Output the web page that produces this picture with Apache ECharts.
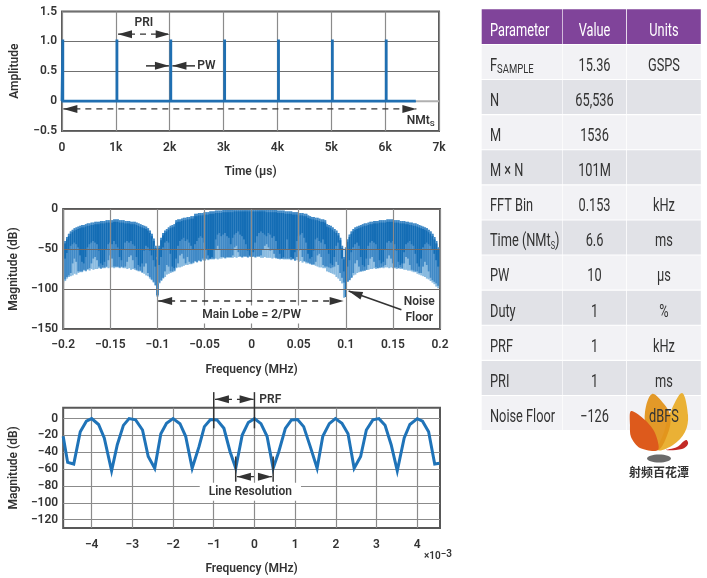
<!DOCTYPE html>
<html><head><meta charset="utf-8">
<style>html,body{margin:0;padding:0;background:#fff}#c{width:707px;height:578px}</style>
<script src="https://cdn.jsdelivr.net/npm/echarts@6/dist/echarts.min.js"></script>
</head><body><div id="c"></div>
<script>
// ---------- data ----------
const pulseTimes = [15, 1020, 2020, 3020, 4020, 5020, 6020];
const pulseHeight = 1.03;
const recordEnd = 6570;
const traceTail = [[6570,0],[7000,0]];

const specStart = -0.2, specStep = 0.002;
const specTop = [
-47,-40,-35,-31,-28,-26,-24,-23,-22,-21, -20,-20,-19,-18,-18,-17,-17,-16,-16,-16,
-15,-15,-15,-14,-14,-14,-14,-13,-13,-13, -14,-14,-14,-15,-15,-15,-16,-16,-16,-17,
-18,-19,-20,-21,-22,-24,-27,-31,-37,-46, -60,
-46,-36,-30,-27,-25,-23,-21,-20,-19,
-14,-13,-13,-12,-11,-11,-10,-10,-9,-9, -6,-6,-5,-5,-5,-4,-4,-4,-3,-3,
-3,-2,-2,-2,-2,-1,-1,-1,-1,-1, -1,0,0,0,0,0,0,0,0,0, 0,
0,0,0,0,0,0,0,-1,-1, -1,-1,-1,-1,-2,-2,-2,-2,-3,-3,
-3,-3,-4,-4,-4,-5,-5,-5,-6,-6, -8,-9,-10,-10,-11,-11,-12,-13,-13,-14,
-19,-20,-21,-23,-25,-27,-30,-36,-46, -60,
-48,-38,-32,-28,-25,-23,-22,-21,-20,
-19,-18,-18,-17,-16,-16,-15,-15,-15,-14, -14,-14,-14,-13,-13,-13,-13,-14,-14,-14,
-15,-15,-15,-16,-16,-17,-17,-18,-18,-19, -20,-21,-22,-23,-24,-26,-28,-31,-35,-40,-48];
const specDark = [
-70,-62,-55,-50,-46,-44,-42,-44,-48,-58, -66,-68,-60,-48,-44,-42,-40,-42,-44,-52,
-68,-70,-66,-50,-44,-42,-44,-40,-44,-48, -60,-64,-50,-42,-40,-42,-40,-44,-46,-60,
-70,-72,-68,-52,-46,-48,-52,-58,-64,-72, -108,
-70,-60,-48,-42,-40,-42,-56,-72,-74,
-62,-46,-40,-38,-36,-40,-38,-42,-46,-50, -44,-40,-36,-34,-36,-42,-50,-58,-62,-60,
-50,-38,-32,-30,-34,-32,-30,-34,-36,-44, -36,-32,-30,-28,-32,-34,-38,-44,-52,-58, -60,
-54,-42,-34,-30,-28,-30,-32,-34,-30, -32,-36,-34,-40,-50,-56,-62,-60,-50,-38,
-50,-60,-62,-54,-40,-34,-32,-30,-36,-42, -56,-62,-60,-52,-38,-36,-40,-42,-38,-44,
-50,-56,-68,-70,-60,-46,-42,-50,-62,-78, -110,
-72,-64,-54,-48,-44,-42,-46,-60,-70,
-72,-62,-46,-42,-40,-42,-44,-50,-64,-68, -66,-50,-42,-40,-42,-40,-44,-52,-66,-70,
-68,-54,-44,-42,-40,-44,-46,-56,-68,-72, -62,-48,-44,-42,-44,-46,-50,-56,-64,-72,-82];
const specMid = [
-90,-88,-85,-83,-80,-68,-62,-66,-78,-78, -78,-76,-77,-75,-74,-68,-62,-60,-64,-72,
-74,-73,-73,-72,-64,-58,-62,-72,-72,-72, -73,-72,-73,-72,-66,-60,-58,-64,-74,-76,
-77,-77,-79,-72,-68,-80,-85,-88,-91,-95, -108,
-92,-89,-86,-78,-70,-72,-78,-78,-77,
-73,-68,-58,-56,-62,-68,-60,-66,-68,-67, -65,-66,-64,-65,-62,-64,-62,-63,-62,-62,
-62,-50,-46,-50,-60,-60,-61,-60,-60,-60, -58,-48,-46,-54,-59,-60,-59,-59,-60,-59, -59,
-59,-60,-59,-59,-58,-50,-46,-44,-48, -52,-50,-56,-61,-62,-62,-61,-62,-62,-62,
-62,-63,-62,-64,-60,-52,-50,-60,-65,-66, -67,-68,-69,-69,-66,-58,-56,-60,-70,-72,
-72,-73,-74,-73,-72,-66,-70,-80,-86,-92, -110,
-91,-89,-86,-80,-68,-64,-72,-78,-77,
-77,-76,-70,-62,-60,-66,-73,-74,-73,-73, -72,-70,-62,-58,-62,-68,-73,-73,-74,-73,
-74,-68,-60,-62,-70,-76,-77,-78,-78,-80, -80,-72,-66,-70,-78,-86,-89,-91,-93,-96,-98];
const specLow = [
-92,-90,-87,-85,-84,-83,-81,-82,-80,-79, -79,-77,-78,-76,-77,-75,-76,-75,-75,-74,
-75,-74,-74,-73,-74,-73,-73,-74,-73,-73, -74,-73,-74,-74,-75,-74,-76,-75,-76,-77,
-78,-78,-80,-81,-83,-84,-87,-89,-92,-96, -110,
-93,-90,-87,-85,-82,-81,-80,-79,-78,
-74,-73,-73,-72,-71,-70,-70,-69,-69,-68, -66,-67,-65,-66,-64,-65,-63,-64,-63,-63,
-63,-62,-63,-62,-62,-61,-62,-61,-61,-61, -61,-60,-61,-60,-60,-61,-60,-60,-61,-60, -60,
-60,-61,-60,-60,-61,-61,-60,-61,-61, -61,-62,-61,-62,-62,-63,-62,-63,-63,-63,
-63,-64,-63,-65,-64,-66,-65,-67,-66,-68, -68,-69,-70,-70,-71,-72,-73,-73,-74,-74,
-78,-79,-80,-81,-82,-85,-87,-90,-93, -111,
-92,-90,-87,-85,-83,-82,-80,-79,-78,
-78,-77,-76,-76,-75,-75,-74,-75,-74,-74, -73,-74,-73,-73,-74,-73,-74,-74,-75,-74,
-75,-75,-76,-76,-77,-77,-78,-79,-79,-81, -82,-83,-84,-85,-87,-88,-90,-92,-94,-97,-99];

const lineFreq = [-4.70,-4.59,-4.44,-4.28,-4.13,-4.0,-3.83,-3.69,-3.51,-3.37,-3.22,-3.08,-2.92,-2.75,-2.61,-2.45,-2.30,-2.16,-2.0,-1.83,-1.69,-1.53,-1.36,-1.23,-1.08,-0.92,-0.75,-0.60,-0.46,-0.30,-0.15,0,0.16,0.31,0.46,0.60,0.76,0.91,1.06,1.21,1.37,1.54,1.68,1.84,1.99,2.15,2.30,2.45,2.61,2.75,2.91,3.06,3.21,3.36,3.51,3.68,3.82,4.0,4.13,4.28,4.43,4.55];
const lineMag = [-21,-52,-54,-15.5,-3,0,-7,-23,-62,-31,-8,0,-1.5,-13.5,-45,-59,-18,-5.5,0,-6,-21,-59,-33,-9.5,-1,-1.5,-11.5,-39,-59,-19.5,-4.5,0,-6,-21,-59,-39,-11.5,-1.5,-1,-9.5,-33,-59,-21,-6,0,-5.5,-18,-59,-45,-13.5,-1.5,0,-8,-31,-62,-23,-7,0,-3,-15.5,-54,-53];

const xTicks3 = [-4,-3,-2,-1,0,1,2,3,4];
const yTicks3 = [0,-20,-40,-60,-80,-100,-120];

// annotation arrows: x1,y1,x2,y2, arrowheads (0 none, 1 end, 2 both), dashed (0/1)
const arrows1 = [[1040,1.12,2000,1.12,2,1],[1560,0.59,1985,0.59,1,0],[2470,0.59,2050,0.59,1,0],[25,-0.13,6580,-0.13,2,1]];
const notes1 = [[1520,1.31,'PRI'],[2680,0.59,'PW'],[6660,-0.335,'{n|NMt}{s|S}']];
const arrows2 = [[-0.0992,-115,0.0977,-115,2,1],[0.159,-126,0.103,-102.5,1,0]];
const notes2 = [[0,-132,'Main Lobe = 2/PW',1],[0.178,-116,'Noise',0],[0.178,-136,'Floor',0]];
const arrows3 = [[-1,31.5,-1,-11.5,0,0],[0,31.5,0,-11.5,0,0],[-0.97,23,-0.02,23,2,1],[-0.46,-45,-0.46,-75,0,0],[0.46,-45,0.46,-75,0,0],[-0.43,-69,0.43,-69,2,1]];
const notes3 = [[0.39,22,'PRF',0],[-0.1,-87,'Line Resolution',1]];

const tableHead = ['Parameter','Value','Units'];
const tableRows = [
 ['{m|F}{b|SAMPLE}','15.36','GSPS'],['N','65,536',''],['M','1536',''],['M × N','101M',''],
 ['FFT Bin','0.153','kHz'],['Time (NMt{b2|S})','6.6','ms'],['PW','10','μs'],['Duty','1','%'],
 ['PRF','1','kHz'],['PRI','1','ms'],['Noise Floor','−126','dBFS']];

// ---------- helpers ----------
const INK = '#333333';
const labelFont = {fontFamily:'Roboto',fontWeight:600,fontSize:12,color:INK};
const minus = s => String(s).replace('-', '−');

function axisBase(extra){
  return Object.assign({
    axisLine:{show:false}, axisTick:{show:false},
    axisLabel:Object.assign({},labelFont),
    nameTextStyle:Object.assign({},labelFont),
    nameLocation:'middle',
    splitLine:{show:true,lineStyle:{color:'#8b8b8b',width:1.2}}
  },extra);
}
function arrowSeries(idx,data){
  return {type:'custom',coordinateSystem:'cartesian2d',xAxisIndex:idx,yAxisIndex:idx,z:10,silent:true,
    data:data,encode:{x:[0,2],y:[1,3]},
    renderItem:function(p,api){
      const a=api.coord([api.value(0),api.value(1)]),b=api.coord([api.value(2),api.value(3)]);
      const heads=api.value(4),dash=api.value(5);
      const d=Math.hypot(b[0]-a[0],b[1]-a[1]),ux=(b[0]-a[0])/d,uy=(b[1]-a[1])/d;
      const L=14,H=4,kids=[];
      const tri=(t,sx,sy)=>({type:'polygon',shape:{points:[t,[t[0]-sx*L-uy*H,t[1]-sy*L+ux*H],[t[0]-sx*L+uy*H,t[1]-sy*L-ux*H]]},style:{fill:'#333'}});
      kids.push({type:'line',shape:{x1:a[0],y1:a[1],x2:b[0],y2:b[1]},
        style:{stroke:'#333',lineWidth:dash?1.3:1.5,lineDash:dash?[6,5]:null}});
      if(heads>=1)kids.push(tri(b,ux,uy));
      if(heads>=2)kids.push(tri(a,-ux,-uy));
      return {type:'group',children:kids};
    }};
}
function noteSeries(idx,notes){
  return {type:'custom',coordinateSystem:'cartesian2d',xAxisIndex:idx,yAxisIndex:idx,z:9,silent:true,
    data:notes.map(n=>[n[0],n[1]]),encode:{x:0,y:1},
    renderItem:function(p,api){
      const c=api.coord([api.value(0),api.value(1)]),n=notes[p.dataIndex];
      return {type:'text',style:{x:c[0],y:c[1],text:n[2],align:'center',verticalAlign:'middle',
        font:'600 12px Roboto',fill:INK,
        backgroundColor:n[3]?'#fff':null,padding:n[3]?[3,9,3,9]:0,
        rich:{n:{font:'600 12px Roboto',fill:INK},s:{font:'600 8px Roboto',fill:INK,verticalAlign:'bottom',padding:[5,0,0,0]}}}};
    }};
}

// ---------- series data built from the arrays ----------
const pulseData=[[0,0]];
pulseTimes.forEach(t=>{pulseData.push([t,0],[t,pulseHeight],[t,0]);});
pulseData.push([recordEnd,0]);
const n=Math.min(specTop.length,specDark.length,specMid.length,specLow.length);
const specData=[];
for(let i=0;i<n;i++)specData.push([specStart+i*specStep,specTop[i],specDark[i],specMid[i],specLow[i]]);
const lineData=lineFreq.map((f,i)=>[f,lineMag[i]]);

function renderComb(p,api){
  const f=api.value(0),half=specStep/2;
  const rect=(y0,y1,fill)=>{
    const a=api.coord([f-half,y0]),b=api.coord([f+half,y1]);
    return {type:'rect',shape:{x:a[0],y:a[1],width:b[0]-a[0]+0.2,height:b[1]-a[1]},style:{fill:fill}};
  };
  const top=api.value(1),dark=api.value(2),mid=api.value(3),low=api.value(4);
  return {type:'group',children:[
    rect(top,low,'#8abbe0'),
    rect(top,mid,'#4089c6'),
    rect(top-3>dark?top-3:dark,dark,'#146db5')
  ]};
}

// ---------- table + logo ----------
const colX=[[481.7,80.5],[562.8,63.4],[627,73.8]];
const tableEls=[];
const tFont='Roboto';
const tScale=0.73;
const rowsY=[[9.3,34.7]];
for(let r=0;r<tableRows.length;r++)rowsY.push([45+r*35.1,34]);
rowsY.forEach((ry,r)=>{
  colX.forEach(cx=>{
    tableEls.push({type:'rect',z:1,shape:{x:cx[0],y:ry[0],width:cx[1],height:ry[1]},
      style:{fill:r===0?'#80449a':(r%2?'#f2f2f5':'#e1e2e7')}});
  });
});
const tRich={m:{font:'17.5px '+tFont,fill:'#333'},b:{font:'13px '+tFont,fill:'#333',verticalAlign:'bottom',padding:[6,0,0,0]},b2:{font:'10px '+tFont,fill:'#333',verticalAlign:'bottom',padding:[7,0,0,0]}};
function cell(text,col,r,z){
  const ry=rowsY[r],left=col===0;
  return {type:'text',z:z||3,x:left?490:colX[col][0]+colX[col][1]/2,y:ry[0]+ry[1]/2+4.5,scaleX:tScale,
    style:{x:0,y:0,text:text,align:left?'left':'center',verticalAlign:'middle',font:'17.5px '+tFont,fill:r===0?'#fff':'#333',rich:tRich}};
}
tableHead.forEach((t,c)=>tableEls.push(cell(t,c,0)));
tableRows.forEach((row,i)=>row.forEach((t,c)=>{if(t)tableEls.push(cell(t,c,i+1,(t==='dBFS')?6:3));}));
const logoEls=[
 {type:'polygon',z:4,shape:{smooth:0.35,points:[[658,450],[664,432],[670,413],[682,393],[688,415],[685,432],[673,445]]},style:{fill:'#e9ad2a',opacity:.95}},
 {type:'polygon',z:4,shape:{smooth:0.35,points:[[658,450],[647,432],[645,412],[652,394],[664,404],[670,415],[669,430]]},style:{fill:'#e2941c',opacity:.95}},
 {type:'polygon',z:5,shape:{smooth:0.3,points:[[658,450],[640,448],[631,437],[630,425],[631,411],[645,420],[655,433]]},style:{fill:'#dd5a1c'}},
 {type:'polygon',z:5,shape:{smooth:0.4,points:[[666,450],[677,447],[686,440],[688,444],[682,449]]},style:{fill:'#c32a26'}},
 {type:'ellipse',z:5,shape:{cx:659,cy:458.5,rx:12,ry:4},style:{fill:'#6b6b6b'}},
 {type:'text',z:5,style:{x:659,y:472.5,text:'射频百花潭',align:'center',verticalAlign:'middle',font:'700 12px "Noto Sans CJK SC"',fill:'#333'}}
];

// ---------- chart ----------
const chart=echarts.init(document.getElementById('c'));
const frame={show:true,borderColor:'#585858',borderWidth:2,backgroundColor:'#fff'};
chart.setOption({
  animation:false,
  backgroundColor:'#fff',
  graphic:{elements:tableEls.concat(logoEls).concat([
    {type:'text',z:7,style:{x:452,y:556,text:'×10{e|−3}',align:'right',verticalAlign:'middle',font:'600 10px Roboto',fill:INK,rich:{e:{font:'600 10px Roboto',fill:INK,verticalAlign:'bottom',padding:[0,0,3,0]}}}}
  ])},
  grid:[
    Object.assign({left:62,top:11.5,width:377,height:119.5},frame),
    Object.assign({left:62,top:209,width:378,height:120},frame),
    Object.assign({left:62,top:407.7,width:378,height:120.3},frame)
  ],
  xAxis:[
    axisBase({type:'value',gridIndex:0,min:0,max:7000,interval:1000,name:'Time (µs)',nameGap:35,
      axisLabel:Object.assign({},labelFont,{margin:11,formatter:v=>v===0?'0':(v/1000)+'k'})}),
    axisBase({type:'value',gridIndex:1,min:-0.2,max:0.2,interval:0.05,name:'Frequency (MHz)',nameGap:35,z:3,
      axisLabel:Object.assign({},labelFont,{margin:10,formatter:v=>minus(parseFloat(v.toFixed(2)))})}),
    axisBase({type:'value',gridIndex:2,min:-4.7,max:4.56,name:'Frequency (MHz)',nameGap:35,
      axisTick:{show:false,customValues:xTicks3},
      axisLabel:Object.assign({},labelFont,{margin:11,customValues:xTicks3,formatter:v=>minus(v)})})
  ],
  yAxis:[
    axisBase({type:'value',gridIndex:0,min:-0.5,max:1.5,interval:0.5,name:'Amplitude',nameGap:41,
      splitLine:{show:true,lineStyle:{color:'#707070',width:1}},
      axisLabel:Object.assign({},labelFont,{margin:5,padding:[2,0,0,0],formatter:v=>v===0?'0':minus(v.toFixed(1))})}),
    axisBase({type:'value',gridIndex:1,min:-150,max:0,interval:50,name:'Magnitude (dB)',nameGap:41,z:3,
      splitLine:{show:true,lineStyle:{color:'#6f6a68',width:1.1}},
      axisLabel:Object.assign({},labelFont,{margin:5,padding:[2,0,0,0],formatter:v=>minus(v)})}),
    axisBase({type:'value',gridIndex:2,min:-130,max:13,name:'Magnitude (dB)',nameGap:41,
      axisTick:{show:false,customValues:yTicks3},
      axisLabel:Object.assign({},labelFont,{margin:5,padding:[2,0,0,0],customValues:yTicks3,formatter:v=>minus(v)})})
  ],
  series:[
    {type:'line',xAxisIndex:0,yAxisIndex:0,data:traceTail,showSymbol:false,z:3,silent:true,
      lineStyle:{color:'#b0b0b0',width:2}},
    {type:'line',xAxisIndex:0,yAxisIndex:0,data:pulseData,showSymbol:false,z:4,silent:true,
      lineStyle:{color:'#1f6fb2',width:2.8,join:'miter'}},
    {type:'custom',xAxisIndex:1,yAxisIndex:1,coordinateSystem:'cartesian2d',data:specData,z:2,silent:true,clip:true,
      encode:{x:0,y:[1,4]},renderItem:renderComb},
    {type:'line',xAxisIndex:2,yAxisIndex:2,data:lineData,showSymbol:false,z:4,silent:true,
      lineStyle:{color:'#1f73b8',width:3,join:'miter'}},
    arrowSeries(0,arrows1),noteSeries(0,notes1),
    arrowSeries(1,arrows2),noteSeries(1,notes2),
    arrowSeries(2,arrows3),noteSeries(2,notes3)
  ]
});
</script></body></html>
